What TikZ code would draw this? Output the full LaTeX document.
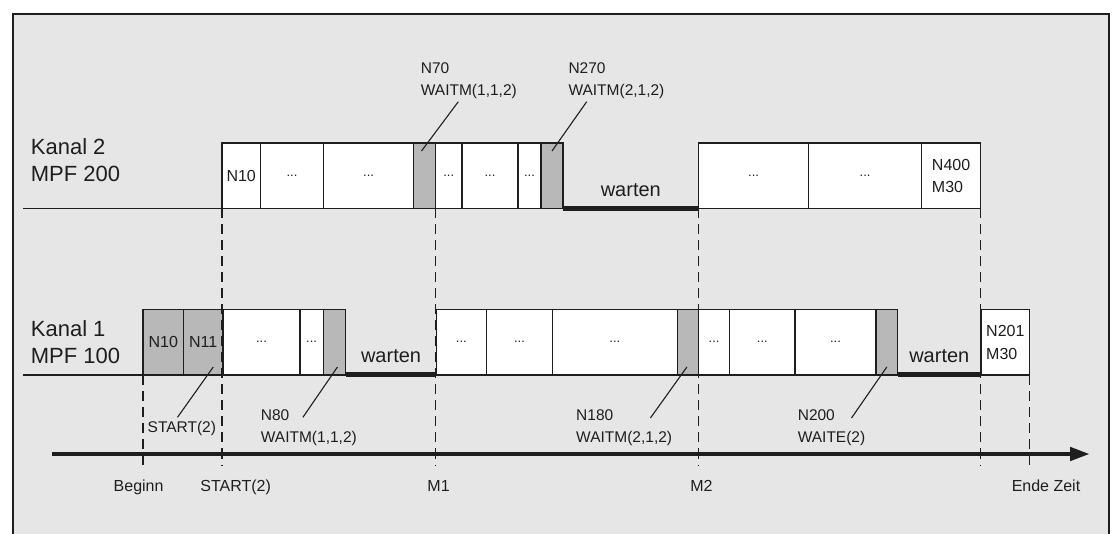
\documentclass[tikz,border=0pt]{standalone}
\usepackage{fontspec}
\setmainfont{Liberation Sans}
\usetikzlibrary{arrows.meta}
\definecolor{bgfill}{HTML}{E6E6E6}
\definecolor{waitfill}{HTML}{B8B8B8}
\definecolor{ink}{HTML}{1E1E1E}

\begin{document}
\begin{tikzpicture}[x=1pt,y=-1pt]

      \tikzset{block/.style={draw=ink, line width=1.2pt, fill=white, rectangle, inner sep=0pt, outer sep=0pt,
                 minimum height=65.5pt, anchor=north west, align=left, text=ink, font=\fontsize{16}{22.5}\selectfont},
               dotblock/.style={block, font=\fontsize{13}{14}\selectfont},
               waitblock/.style={block, fill=waitfill},
               note/.style={anchor=north west, align=left, inner sep=0pt, text=ink, font=\fontsize{15.5}{22}\selectfont},
               channel/.style={anchor=north west, align=left, inner sep=0pt, text=ink, font=\fontsize{22}{27.5}\selectfont},
               tick/.style={anchor=base, inner sep=0pt, text=ink, font=\fontsize{16}{20}\selectfont},
               wait/.style={midway, anchor=base, yshift=12pt, inner sep=0pt, text=ink, font=\fontsize{20}{24}\selectfont},
               pause/.style={draw=ink, line width=5pt},
               base/.style={draw=ink, line width=1.2pt},
               guide/.style={draw=ink, line width=1.3pt, dash pattern=on 10pt off 6pt},
               lead/.style={draw=ink, line width=1.1pt}}

%% Frame
      	\clip (0,0) rectangle (1114,534);
      	\fill[white] (0,0) rectangle (1114,534);
      	\draw[draw=ink, fill=bgfill, line width=1.3pt] (12.9,14) rectangle (1109,560);

%% Time line
      	\coordinate (t0) at (52,454);
      	\coordinate (t1) at (1090,454);
      	\coordinate (tend) at (0,466);
      	\node[tick] (lbeg) at (138.6,491.5) {Beginn};
      	\node[tick] (lstart) at (235.7,491.5) {START(2)};
      	\node[tick] (lm1) at (438.6,491.5) {M1};
      	\node[tick] (lm2) at (701.5,491.5) {M2};
      	\node[tick] (lende) at (1046,491.5) {Ende Zeit};

%% Kanal 2
      	\node[channel] (c2) at (30.7,138.2) {Kanal 2\\MPF 200};
      	\coordinate (c2start) at (23,208.5);
      	\node[block, minimum width=38.4pt] (k2n10) at (222,143) {N10};
      	\node[dotblock, minimum width=63.2pt] (k2b) at (260.4,143) {...};
      	\node[dotblock, minimum width=89.9pt] (k2c) at (323.6,143) {...};
      	\node[waitblock, minimum width=22pt] (k2w70) at (413.5,143) {};
      	\node[dotblock, minimum width=26.5pt] (k2d) at (435.5,143) {...};
      	\node[dotblock, minimum width=56pt] (k2e) at (462,143) {...};
      	\node[dotblock, minimum width=23pt] (k2f) at (518,143) {...};
      	\node[waitblock, minimum width=22pt] (k2w270) at (541,143) {};
      	\node[dotblock, minimum width=110pt] (k2g) at (698.6,143) {...};
      	\node[dotblock, minimum width=112.9pt] (k2h) at (808.6,143) {...};
      	\node[block, minimum width=59.2pt] (k2n400) at (921.5,143) {N400\\M30};

%% Kanal 1
      	\node[channel] (c1) at (30.7,320) {Kanal 1\\MPF 100};
      	\coordinate (c1start) at (23,375);
      	\node[waitblock, minimum width=40.5pt] (k1n10) at (143,309.5) {N10};
      	\node[waitblock, minimum width=39.5pt] (k1n11) at (183.5,309.5) {N11};
      	\node[dotblock, minimum width=77pt] (k1c) at (223,309.5) {...};
      	\node[dotblock, minimum width=23.2pt] (k1d) at (300,309.5) {...};
      	\node[waitblock, minimum width=22.5pt] (k1w80) at (323.2,309.5) {};
      	\node[dotblock, minimum width=50pt] (k1e) at (436.4,309.5) {...};
      	\node[dotblock, minimum width=66.1pt] (k1f) at (486.4,309.5) {...};
      	\node[dotblock, minimum width=124.7pt] (k1g) at (552.5,309.5) {...};
      	\node[waitblock, minimum width=21.4pt] (k1w180) at (677.2,309.5) {};
      	\node[dotblock, minimum width=31.1pt] (k1h) at (698.6,309.5) {...};
      	\node[dotblock, minimum width=65.3pt] (k1i) at (729.7,309.5) {...};
      	\node[dotblock, minimum width=81pt] (k1j) at (795,309.5) {...};
      	\node[waitblock, minimum width=21.6pt] (k1w200) at (876,309.5) {};
      	\node[block, minimum width=48.7pt] (k1n201) at (981,309.5) {N201\\M30};

%% Notes
      	\node[note] (l70) at (420.7,62.7) {N70\\WAITM(1,1,2)};
      	\node[note] (l270) at (568.3,62.7) {N270\\WAITM(2,1,2)};
      	\node[note] (l11) at (147.5,421.5) {START(2)};
      	\node[note] (l80) at (260.7,409.5) {N80\\WAITM(1,1,2)};
      	\node[note] (l180) at (576,409.5) {N180\\WAITM(2,1,2)};
      	\node[note] (l200) at (797.6,409.5) {N200\\WAITE(2)};
      	\coordinate (e70) at (458.3,101.7);
      	\coordinate (e270) at (586.7,101.7);
      	\coordinate (e11) at (177.5,417.3);
      	\coordinate (e80) at (302.9,417.3);
      	\coordinate (e180) at (650.4,418);
      	\coordinate (e200) at (851.5,418);

%Guides
		\path[guide] (k1n10.south west) -- (k1n10.south west |- tend);
		\path[guide] (k2n10.south west) -- (k2n10.south west |- tend);
		\path[guide] (k2w70.south east) -- (k2w70.south east |- tend);
		\path[guide] (k2g.south west) -- (k2g.south west |- tend);
		\path[guide] (k2n400.south east) -- (k2n400.south east |- tend);
		\path[guide] (k1n201.south east) -- (k1n201.south east |- tend);
		\draw[ink, line width=4.5pt, -{Triangle[length=20pt,width=13pt]}] (t0) -- (t1);

%Lines
		\path[base] (c2start) -- (k2n10.south west);
		\path[base] (c1start) -- (k1n10.south west);
		\path[pause] (k2w270.south east) -- node[wait] {warten} (k2g.south west);
		\path[pause] (k1w80.south east) -- node[wait] {warten} (k1e.south west);
		\path[pause] (k1w200.south east) -- node[wait] {warten} (k1n201.south west);

%Leaders
		\path[lead] ([xshift=-3pt,yshift=-8pt]k2w70.north) -- (e70);
		\path[lead] ([yshift=-8pt]k2w270.north) -- (e270);
		\path[lead] ([xshift=10pt,yshift=8pt]k1n11.south) -- (e11);
		\path[lead] ([xshift=3pt,yshift=8pt]k1w80.south) -- (e80);
		\path[lead] ([xshift=-1pt,yshift=8pt]k1w180.south) -- (e180);
		\path[lead] ([yshift=8pt]k1w200.south) -- (e200);

	\end{tikzpicture}
\end{document}
